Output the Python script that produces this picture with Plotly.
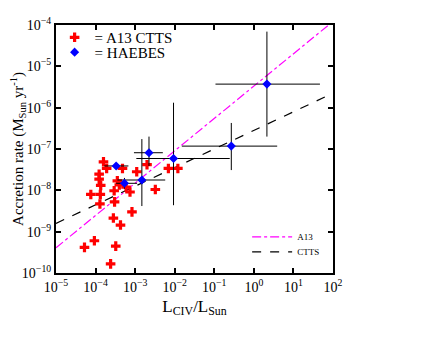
import plotly.graph_objects as go

# red crosses: A13 CTTS (L_CIV/L_sun, Macc)
ctts_logL = [-3.80, -3.72, -3.32, -3.91, -3.91, -3.87, -4.12, -3.88, -3.89, -3.45,
             -3.40, -3.23, -3.53, -3.13, -3.52, -2.96, -2.70, -2.49, -2.16, -1.92,
             -3.08, -3.55, -3.37, -4.03, -4.28, -3.49, -3.62]
ctts_logM = [-7.31, -7.47, -7.47, -7.61, -7.73, -7.88, -8.10, -8.10, -8.33, -7.77,
             -7.87, -7.92, -8.01, -8.04, -8.28, -7.55, -7.38, -7.98, -7.47, -7.47,
             -8.52, -8.67, -8.84, -9.22, -9.38, -9.35, -9.78]

# blue diamonds: HAEBES, with error ranges (log)
hae_logL = [-3.48, -3.27, -2.83, -2.65, -2.03, -0.57, 0.33]
hae_logM = [-7.41, -7.83, -7.75, -7.09, -7.23, -6.93, -5.43]
hae_logL_lo = [-3.78, -3.48, -3.45, -3.03, -2.97, -1.82, -0.97]
hae_logL_hi = [-3.17, -2.95, -2.24, -2.30, -0.61, 0.59, 1.67]
hae_logM_lo = [-7.41, -7.96, -8.38, -7.41, -8.36, -7.51, -6.70]
hae_logM_hi = [-7.41, -7.70, -6.76, -6.70, -5.88, -6.37, -4.16]

# relations (end points)
a13_L = [1e-5, 10**1.89]
a13_M = [10**-9.39, 1e-4]
ctts_L = [1e-5, 1e2]
ctts_M = [10**-8.80, 10**-5.65]

x_exps = [-5, -4, -3, -2, -1, 0, 1, 2]
y_exps = [-10, -9, -8, -7, -6, -5, -4]

p = lambda v: [10**x for x in v]
lab = lambda e: "10<sup>%s</sup>" % str(e).replace("-", "\u2212")

hx, hy = p(hae_logL), p(hae_logM)
ex_plus = [a - b for a, b in zip(p(hae_logL_hi), hx)]
ex_minus = [b - a for a, b in zip(p(hae_logL_lo), hx)]
ey_plus = [a - b for a, b in zip(p(hae_logM_hi), hy)]
ey_minus = [b - a for a, b in zip(p(hae_logM_lo), hy)]

FONT = "Liberation Serif, Times New Roman, serif"

fig = go.Figure()
fig.add_trace(go.Scatter(x=a13_L, y=a13_M, mode="lines", name="A13",
                         line=dict(color="#ff00ff", width=1.2, dash="dashdot"),
                         legend="legend2"))
fig.add_trace(go.Scatter(x=ctts_L, y=ctts_M, mode="lines", name="CTTS",
                         line=dict(color="black", width=1.2, dash="dash"),
                         legend="legend4"))
fig.add_trace(go.Scatter(x=p(ctts_logL), y=p(ctts_logM), mode="markers", name="= A13 CTTS",
                         legend="legend",
                         marker=dict(symbol="cross", size=8, color="red", line_width=0)))
fig.add_trace(go.Scatter(x=hx, y=hy, mode="markers", name="= HAEBES", legend="legend3",
                         marker=dict(symbol="diamond", size=7, color="blue", line_width=0),
                         error_x=dict(type="data", symmetric=False, array=ex_plus, arrayminus=ex_minus,
                                      color="black", thickness=1, width=0),
                         error_y=dict(type="data", symmetric=False, array=ey_plus, arrayminus=ey_minus,
                                      color="black", thickness=1, width=0)))

axis_common = dict(type="log", ticks="inside", ticklen=5, tickwidth=1.5, tickcolor="black",
                   showline=True, linewidth=2, linecolor="black", mirror="ticks",
                   showgrid=False, zeroline=False, automargin=False,
                   tickfont=dict(family=FONT, size=14, color="black"))

fig.update_xaxes(range=[-5, 2], tickvals=p(x_exps), ticktext=[lab(e) for e in x_exps],
                 title=dict(text="L<sub>CIV</sub>/L<sub>Sun</sub>",
                            font=dict(family=FONT, size=17, color="black"), standoff=6),
                 **axis_common)
fig.update_yaxes(range=[-10, -4], tickvals=p(y_exps), ticktext=[lab(e) for e in y_exps],
                 title=dict(text="Accretion rate (M<sub>Sun</sub> yr<sup>-1</sup>)",
                            font=dict(family=FONT, size=15, color="black"), standoff=4),
                 **axis_common)

leg = dict(xanchor="left", yanchor="top", bgcolor="rgba(0,0,0,0)",
           font=dict(family=FONT, size=15), itemwidth=30)
leg_small = dict(xanchor="left", yanchor="top", bgcolor="rgba(0,0,0,0)",
                 font=dict(family=FONT, size=9), itemwidth=40)
fig.update_layout(
    width=433, height=339,
    margin=dict(l=48, r=108, t=17, b=74),
    paper_bgcolor="white", plot_bgcolor="white",
    font=dict(family=FONT, color="black"),
    showlegend=True,
    legend=dict(x=-0.005, y=1.016, **leg),
    legend3=dict(x=-0.005, y=0.956, **leg),
    legend2=dict(x=0.69, y=0.204, **leg_small),
    legend4=dict(x=0.69, y=0.1435, **leg_small),
)

fig.write_html("out.html")
